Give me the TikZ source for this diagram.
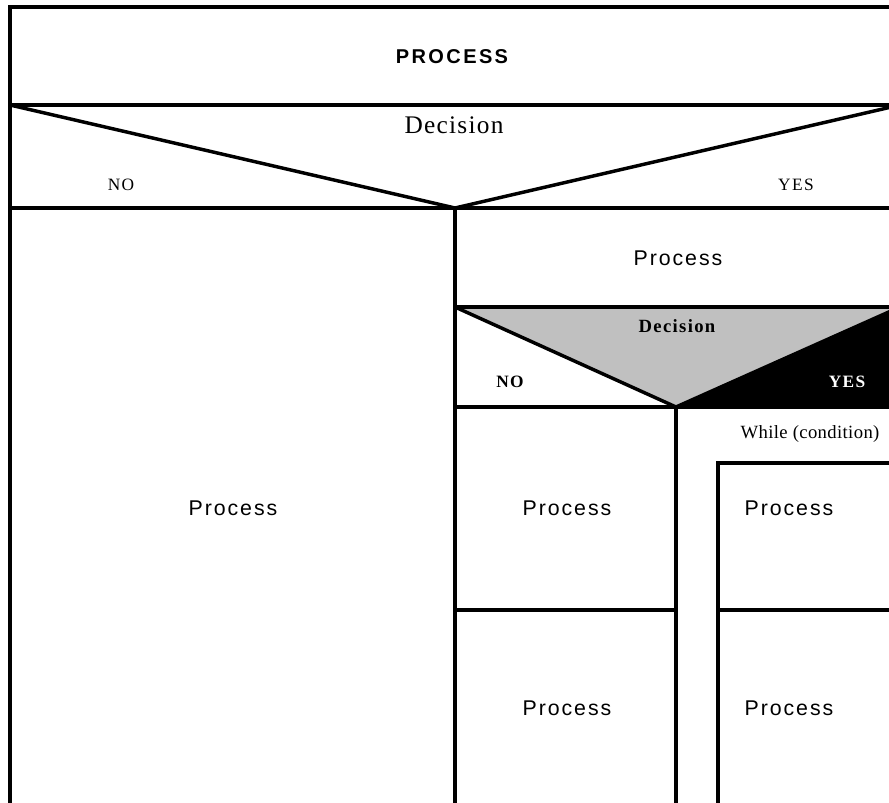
\documentclass[tikz,border=0pt]{standalone}
\usepackage{fontspec}
\usepackage{xcolor}
\usepackage{tikz}
\usetikzlibrary{positioning}
\setmainfont{Liberation Serif}
\newfontfamily\procfont[LetterSpace=9]{Liberation Sans}
\newfontfamily\headfont[LetterSpace=12]{Liberation Sans}
\newfontfamily\decfont[LetterSpace=5]{Liberation Serif}
\newfontfamily\ynfont[LetterSpace=8]{Liberation Serif}
\newfontfamily\decbfont[LetterSpace=7]{Liberation Serif}
\newfontfamily\whilefont[LetterSpace=2]{Liberation Serif}
\definecolor{decgray}{RGB}{192,192,192}

\begin{document}
\begin{tikzpicture}[
    x=0.75pt, y=-0.75pt,
    wall/.style={line width=2.6pt, line join=miter},
    proc/.style={font=\procfont\fontsize{16}{19}\selectfont},
    head/.style={font=\headfont\bfseries\fontsize{15}{18}\selectfont},
    dec/.style={font=\decfont\fontsize{19}{22}\selectfont},
    yn/.style={font=\ynfont\fontsize{13}{15}\selectfont},
    decb/.style={font=\decbfont\bfseries\fontsize{14}{16}\selectfont},
    ynb/.style={font=\ynfont\bfseries\fontsize{13}{15}\selectfont},
    cond/.style={font=\whilefont\fontsize{14}{16}\selectfont}
]
    \useasboundingbox (0,0) rectangle (889,803);
    \clip (0,0) rectangle (889,803);

    % corner points of the two decisions
    \coordinate (apex1) at (455,208);
    \coordinate (apex2) at (676,407);

    % nested decision: grey triangle, black yes side
    \fill[decgray] (455,307) -- (apex2) -- (900,307) -- cycle;
    \fill[black] (apex2) -- (900,307) -- (900,407) -- cycle;

    % outer frame and first decision
    \draw[wall] (900,7) -- (10,7) -- (10,810);
    \draw[wall] (10,105) -- (900,105);
    \draw[wall] (10,105) -- (apex1) -- (900,105);
    \draw[wall] (10,208) -- (900,208);
    \draw[wall] (apex1) -- (455,810);

    % yes branch
    \draw[wall] (455,307) -- (900,307);
    \draw[wall] (455,307) -- (apex2) -- (900,307);
    \draw[wall] (455,407) -- (900,407);
    \draw[wall] (apex2) -- (676,810);
    \draw[wall] (455,610) -- (676,610);

    % while loop
    \draw[wall] (900,463) -- (718,463) -- (718,810);
    \draw[wall] (718,610) -- (900,610);

    \node[head] (title) at (452,57) {PROCESS};
    \node[dec] (cond1) at (454,125) {Decision};
    \node[yn] (no1) at (121,185) {NO};
    \node[yn] (yes1) at (796,185) {YES};
    \node[proc] (p1) at (678,258) {Process};
    \node[decb] (cond2) at (677,326) {Decision};
    \node[ynb] (no2) at (510,382) {NO};
    \node[ynb, text=white] (yes2) at (847,382) {YES};
    \node[cond] (loop) at (810,434) {While (condition)};
    \node[proc] (p2) at (233,508) {Process};
    \node[proc] (p3) at (567,508) {Process};
    \node[proc] (p4) at (789,508) {Process};
    \node[proc] (p5) at (567,708) {Process};
    \node[proc] (p6) at (789,708) {Process};
\end{tikzpicture}
\end{document}
